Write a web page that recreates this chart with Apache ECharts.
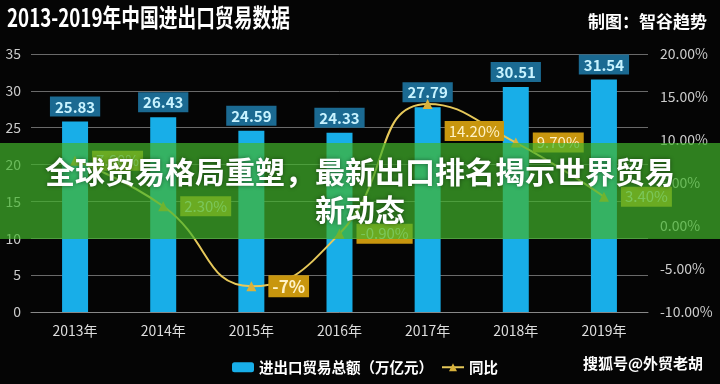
<!DOCTYPE html>
<html>
<head>
<meta charset="utf-8">
<script src="https://cdn.jsdelivr.net/npm/echarts@6/dist/echarts.min.js"></script>
<style>html,body{margin:0;padding:0;background:#050505;}#c{width:720px;height:384px;}</style>
</head>
<body>
<div id="c"></div>
<script>
var categories = ['2013年','2014年','2015年','2016年','2017年','2018年','2019年'];
var totalValues = [25.83, 26.43, 24.59, 24.33, 27.79, 30.51, 31.54];
var yoyValues = [7.6, 2.3, -7, -0.9, 14.2, 9.7, 3.4];
var yoyLabels = ['7.60%', '2.30%', '-7%', '-0.90%', '14.20%', '9.70%', '3.40%'];
var FONT = '"Noto Sans CJK SC", "Noto Sans", sans-serif';

var chart = echarts.init(document.getElementById('c'));
var lineData = yoyValues.map(function (v, i) {
  var d = { value: v };
  if (i === 4) d.label = { offset: [0, 27] };
  if (i === 2) d.label = { fontSize: 17, fontWeight: 'bold' };
  return d;
});
chart.setOption({
  backgroundColor: '#050505',
  textStyle: { fontFamily: FONT },
  title: [
    { text: '制图：智谷趋势', right: 8, top: 8,
      textStyle: { color: '#fff', fontSize: 17, fontWeight: 'bold', fontFamily: FONT } }
  ],
  grid: { left: 31, right: 72, top: 54, bottom: 72 },
  legend: {
    left: 227, top: 355, itemWidth: 22, itemHeight: 10, itemGap: 8,
    textStyle: { color: '#fff', fontSize: 14.5, fontWeight: 'bold', fontFamily: FONT },
    data: ['进出口贸易总额（万亿元）', '同比']
  },
  xAxis: {
    type: 'category', data: categories,
    axisLine: { lineStyle: { color: '#888' } },
    axisTick: { show: false },
    axisLabel: { color: '#ddd', fontSize: 14, margin: 12 }
  },
  yAxis: [
    { type: 'value', min: 0, max: 35, interval: 5,
      axisLine: { show: false }, axisTick: { show: false },
      axisLabel: { color: '#ccc', fontSize: 14, margin: 10 },
      splitLine: { lineStyle: { color: '#6a6a6a' } } },
    { type: 'value', min: -10, max: 20, interval: 5,
      axisLine: { show: false }, axisTick: { show: false },
      axisLabel: { color: '#ccc', fontSize: 14, margin: 12,
        formatter: function (v) { return v.toFixed(2) + '%'; } },
      splitLine: { show: false } }
  ],
  series: [
    { name: '进出口贸易总额（万亿元）', type: 'bar', data: totalValues, barWidth: 26,
      itemStyle: { color: '#18aee8' },
      label: { show: true, position: 'top', distance: 5, color: '#c8f3ff', fontSize: 15,
        fontWeight: 'bold', backgroundColor: '#1b6a92', padding: [3, 5, 2, 5] } },
    { name: '同比', type: 'line', yAxisIndex: 1, data: lineData, smooth: 0.5,
      symbol: 'triangle', symbolSize: 10, z: 5,
      lineStyle: { color: '#e6c85a', width: 2 },
      itemStyle: { color: '#d9b23a' },
      label: { show: true, position: 'right', distance: 12, color: '#fff2c6', fontSize: 15,
        backgroundColor: '#c8960e', padding: [3, 4, 2, 4],
        formatter: function (p) { return yoyLabels[p.dataIndex]; } } }
  ],
  graphic: [
    { type: 'text', z: 50, x: 7, y: 17, scaleX: 0.75,
      style: { text: '2013-2019年中国进出口贸易数据', fill: '#fff',
        font: 'bold 25px ' + FONT, verticalAlign: 'middle' } },
    { type: 'rect', left: 0, top: 143, z: 100,
      shape: { width: 720, height: 96 },
      style: { fill: 'rgba(66,179,43,0.7)' } },
    { type: 'text', z: 101, x: 360, y: 191,
      style: { text: '全球贸易格局重塑，最新出口排名揭示世界贸易\n新动态',
        fill: '#fff', font: 'bold 30px ' + FONT, align: 'center', verticalAlign: 'middle',
        lineHeight: 38, textShadowColor: 'rgba(0,0,0,0.45)', textShadowBlur: 4 } },
    { type: 'text', z: 101, right: 17, top: 356,
      style: { text: '搜狐号@外贸老胡', fill: '#fff', font: 'bold 15px ' + FONT } }
  ]
});
</script>
</body>
</html>
